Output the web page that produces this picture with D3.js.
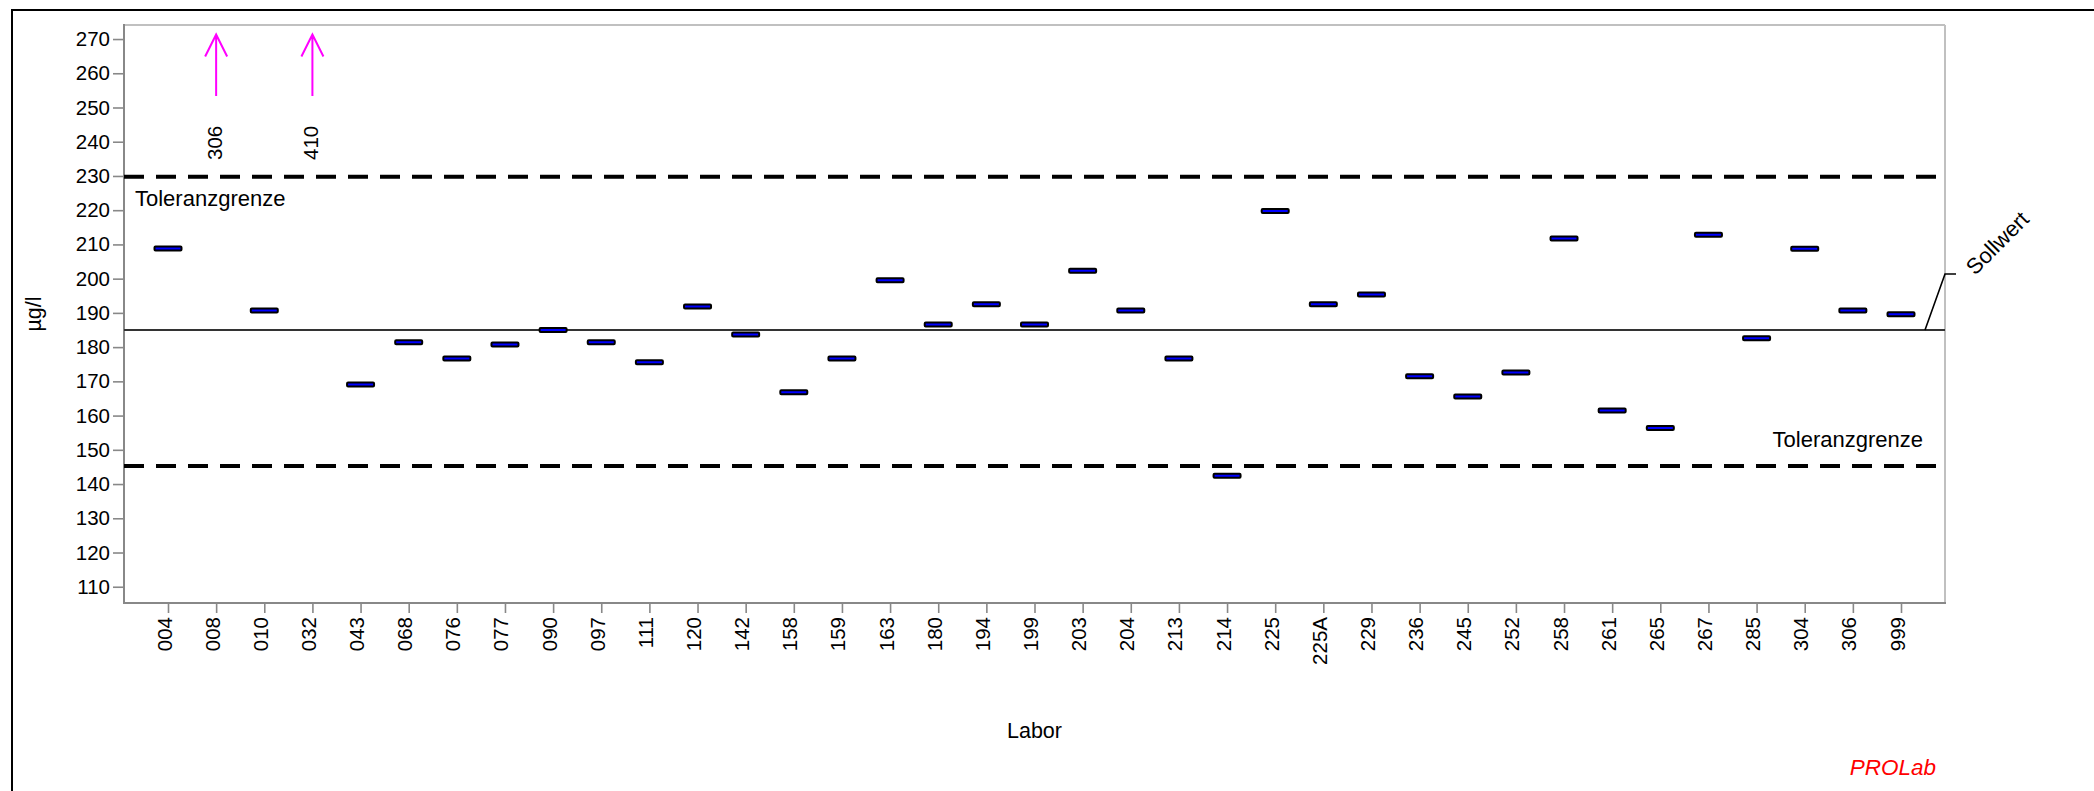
<!DOCTYPE html>
<html>
<head>
<meta charset="utf-8">
<script src="https://cdn.jsdelivr.net/npm/d3@7"></script>
<style>
  html, body { margin: 0; padding: 0; background: #fff; }
  svg { display: block; font-family: "Liberation Sans", Arial, sans-serif; }
</style>
</head>
<body>
<svg id="chart" width="2094" height="791"></svg>
<script>
// Laboratory codes along the x axis
const labs = ["004","008","010","032","043","068","076","077","090","097","111","120","142","158","159","163","180","194","199","203","204","213","214","225","225A","229","236","245","252","258","261","265","267","285","304","306","999"];

// Reported result per laboratory (µg/l)
const results = [208.8,306,190.7,410,169.1,181.4,176.7,180.8,185.0,181.4,175.6,191.9,183.7,166.8,176.7,199.5,186.6,192.5,186.6,202.3,190.7,176.7,142.4,219.8,192.5,195.4,171.5,165.6,172.6,211.7,161.5,156.4,212.8,182.6,208.7,190.7,189.6];

// Reference value and tolerance limits
const sollwert = 185.0;
const toleranceUpper = 229.8;
const toleranceLower = 145.3;

// Y axis ticks
const yTicks = [110,120,130,140,150,160,170,180,190,200,210,220,230,240,250,260,270];
const yDomain = [105.25, 274.1];

const svg = d3.select("#chart");
const plot = { left: 124, right: 1945, top: 25, bottom: 603 };

const x = d3.scalePoint().domain(labs).range([168, 1901]);
const y = d3.scaleLinear().domain(yDomain).range([plot.bottom, plot.top]);

// Outer frame
svg.append("rect")
  .attr("x", 12).attr("y", 10)
  .attr("width", 2300).attr("height", 1000)
  .attr("fill", "none").attr("stroke", "#000").attr("stroke-width", 2);

// Plot border: light top/right, darker axes
svg.append("line").attr("x1", plot.left).attr("x2", plot.right).attr("y1", plot.top).attr("y2", plot.top)
  .attr("stroke", "#c0c0c0").attr("stroke-width", 2);
svg.append("line").attr("x1", plot.right).attr("x2", plot.right).attr("y1", plot.top).attr("y2", plot.bottom)
  .attr("stroke", "#c0c0c0").attr("stroke-width", 2);

// Y axis
const yAxis = d3.axisLeft(y).tickValues(yTicks).tickSize(11).tickPadding(3).tickSizeOuter(0);
const gy = svg.append("g").attr("transform", `translate(${plot.left},0)`).call(yAxis);
gy.select(".domain").remove();
gy.selectAll(".tick line").attr("stroke", "#888").attr("stroke-width", 1.6);
gy.selectAll(".tick text").attr("font-size", 20.5).attr("fill", "#000")
  .attr("font-family", "Liberation Sans, Arial, sans-serif");
svg.append("line").attr("x1", plot.left).attr("x2", plot.left).attr("y1", plot.top - 1).attr("y2", plot.bottom + 1)
  .attr("stroke", "#888").attr("stroke-width", 2);

// X axis
const xAxis = d3.axisBottom(x).tickSize(10).tickFormat(() => "").tickSizeOuter(0);
const gx = svg.append("g").attr("transform", `translate(0,${plot.bottom})`).call(xAxis);
gx.select(".domain").remove();
gx.selectAll(".tick line").attr("stroke", "#888").attr("stroke-width", 1.6);
gx.selectAll(".tick text").remove();
svg.append("line").attr("x1", plot.left - 1).attr("x2", plot.right + 1).attr("y1", plot.bottom).attr("y2", plot.bottom)
  .attr("stroke", "#888").attr("stroke-width", 2);

svg.append("g").selectAll("text").data(labs).join("text")
  .attr("transform", d => `translate(${x(d) + 3.5},${plot.bottom + 14}) rotate(-90)`)
  .attr("text-anchor", "end")
  .attr("font-size", 20.5)
  .attr("fill", "#000")
  .text(d => d);

// Axis titles
svg.append("text")
  .attr("transform", `translate(41,${(plot.top + plot.bottom) / 2}) rotate(-90)`)
  .attr("text-anchor", "middle")
  .attr("font-size", 21.5)
  .text("µg/l");
svg.append("text")
  .attr("x", (plot.left + plot.right) / 2).attr("y", 738)
  .attr("text-anchor", "middle")
  .attr("font-size", 21.5)
  .text("Labor");

// Tolerance limits
[toleranceUpper, toleranceLower].forEach(v => {
  svg.append("line")
    .attr("x1", plot.left).attr("x2", 1936)
    .attr("y1", y(v)).attr("y2", y(v))
    .attr("stroke", "#000").attr("stroke-width", 4)
    .attr("stroke-dasharray", "20,12");
});
svg.append("text").attr("x", 135).attr("y", y(toleranceUpper) + 29)
  .attr("font-size", 22).text("Toleranzgrenze");
svg.append("text").attr("x", 1923).attr("y", y(toleranceLower) - 19)
  .attr("text-anchor", "end")
  .attr("font-size", 22).text("Toleranzgrenze");

// Reference value line with label
svg.append("line")
  .attr("x1", plot.left).attr("x2", plot.right)
  .attr("y1", y(sollwert)).attr("y2", y(sollwert))
  .attr("stroke", "#333").attr("stroke-width", 2);
svg.append("path")
  .attr("d", `M${plot.right - 20},${y(sollwert)} L${plot.right},${y(sollwert) - 56} L${plot.right + 11},${y(sollwert) - 56}`)
  .attr("fill", "none").attr("stroke", "#000").attr("stroke-width", 1.6);
svg.append("text")
  .attr("transform", `translate(${plot.right + 30},${y(sollwert) - 54}) rotate(-45)`)
  .attr("font-size", 22).text("Sollwert");

// Results within the axis range
const rows = labs.map((lab, i) => ({ lab, value: results[i] }));
const inRange = rows.filter(d => d.value <= yDomain[1] && d.value >= yDomain[0]);
const outHigh = rows.filter(d => d.value > yDomain[1]);

svg.append("g").selectAll("rect").data(inRange).join("rect")
  .attr("x", d => x(d.lab) - 13.5)
  .attr("y", d => y(d.value) - 2)
  .attr("width", 27).attr("height", 4)
  .attr("rx", 1)
  .attr("fill", "#0000ff")
  .attr("stroke", "#000").attr("stroke-width", 2);

// Results above the axis range: arrow plus value
const arrows = svg.append("g").selectAll("g").data(outHigh).join("g")
  .attr("transform", d => `translate(${x(d.lab)},${plot.top})`);
arrows.append("path")
  .attr("d", "M0,71 L0,9.5 M-11,31.5 L0,9.5 L11,31.5")
  .attr("fill", "none").attr("stroke", "#ff00ff").attr("stroke-width", 2);
arrows.append("text")
  .attr("transform", "translate(5.5,135) rotate(-90)")
  .attr("font-size", 20.5)
  .attr("fill", "#000")
  .text(d => d3.format("d")(d.value));

// Program mark
svg.append("text")
  .attr("x", 1936).attr("y", 775)
  .attr("text-anchor", "end")
  .attr("font-size", 22.5)
  .attr("font-style", "italic")
  .attr("fill", "#ff0000")
  .text("PROLab");
</script>
</body>
</html>
